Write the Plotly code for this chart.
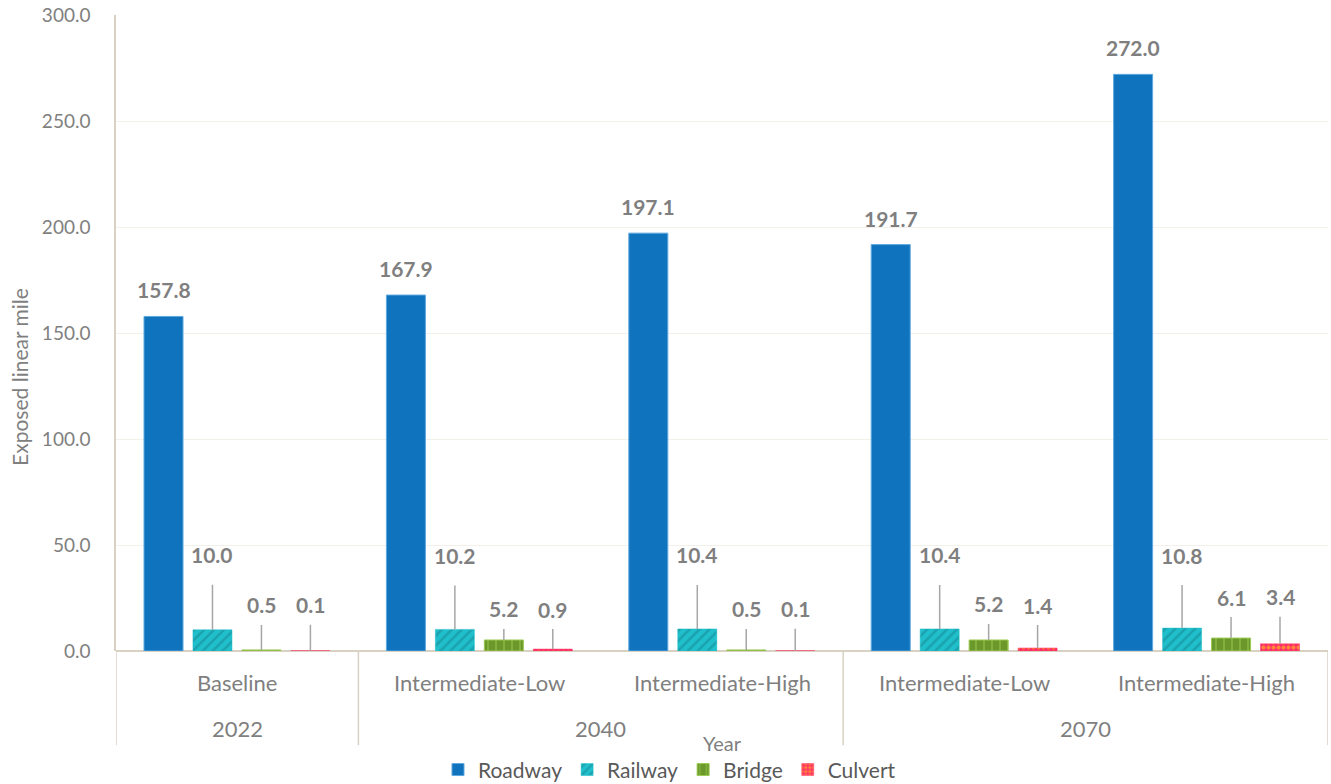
import plotly.graph_objects as go

# Scenario / year categories
years = ["2022", "2040", "2040", "2070", "2070"]
scenarios = ["Baseline", "Intermediate-Low", "Intermediate-High",
             "Intermediate-Low", "Intermediate-High"]

# Exposed linear miles by asset type
roadway = [157.8, 167.9, 197.1, 191.7, 272.0]
railway = [10.0, 10.2, 10.4, 10.4, 10.8]
bridge = [0.5, 5.2, 0.5, 5.2, 6.1]
culvert = [0.1, 0.9, 0.1, 1.4, 3.4]

y_ticks = [0, 50, 100, 150, 200, 250, 300]

# Callout label offsets (pixels above the bar top) for the small series
railway_label_dy = [-75, -74, -74, -74, -73]
bridge_label_dy = [-45, -31, -41, -36, -41]
culvert_label_dy = [-46, -40, -42, -43, -47]

GRAY = "#7F7F7F"
BEIGE = "#D9D2C3"
FONT = "Lato"

x = list(range(len(scenarios)))
bar_w = 0.161
step = 0.202
first = -0.3845

series = [
    dict(name="Roadway", data=roadway,
         marker=dict(color="#0F73BD", line=dict(color="#5FA8DE", width=1))),
    dict(name="Railway", data=railway,
         marker=dict(color="#1FBFCB", line=dict(color="#1FBFCB", width=0.5),
                     pattern=dict(shape="/", fgcolor="#15838F", size=7,
                                  solidity=0.35, fillmode="overlay"))),
    dict(name="Bridge", data=bridge,
         marker=dict(color="#6A982B", line=dict(color="#9BCB52", width=1),
                     pattern=dict(shape="|", fgcolor="#A6D35A", size=8,
                                  solidity=0.2, fillmode="overlay"))),
    dict(name="Culvert", data=culvert,
         marker=dict(color="#FF2F6A", line=dict(color="#FF2F6A", width=0.5),
                     pattern=dict(shape=".", fgcolor="#FFE000", size=5,
                                  solidity=0.5, fillmode="overlay"))),
]

fig = go.Figure()
for i, s in enumerate(series):
    fig.add_trace(go.Bar(
        x=x, y=s["data"], name=s["name"],
        offset=first + i * step, width=bar_w,
        marker=s["marker"], hoverinfo="y",
    ))

annotations = []
label_font = dict(family=FONT, size=21, color=GRAY, weight="bold")


def center(cat, i):
    return cat + first + i * step + bar_w / 2


# Roadway labels sit directly above the bars
for c, v in zip(x, roadway):
    annotations.append(dict(x=center(c, 0), y=v, xref="x", yref="y",
                            text=f"{v:.1f}", showarrow=False, yanchor="bottom",
                            yshift=12, font=label_font))

# Callout labels with leader lines for the smaller series
for i, vals, dys, sso in [(1, railway, railway_label_dy, 16),
                          (2, bridge, bridge_label_dy, 6),
                          (3, culvert, culvert_label_dy, 6)]:
    for c, v, dy in zip(x, vals, dys):
        annotations.append(dict(x=center(c, i), y=v, xref="x", yref="y",
                                text=f"{v:.1f}", showarrow=True, arrowhead=0,
                                arrowwidth=1.5, arrowcolor="#A6A6A6",
                                ax=0, ay=dy, startstandoff=sso,
                                font=label_font))

# Category labels (inner level: scenario, outer level: year)
cat_font = dict(family=FONT, size=22, color=GRAY)
for c, sc in zip(x, scenarios):
    annotations.append(dict(x=c, y=-0.0503, xref="x", yref="paper",
                            text=sc, showarrow=False, yanchor="middle",
                            font=cat_font))

year_groups = {}
for c, yr in zip(x, years):
    year_groups.setdefault(yr, []).append(c)
for yr, cats in year_groups.items():
    annotations.append(dict(x=sum(cats) / len(cats), y=-0.1226, xref="x",
                            yref="paper", text=yr, showarrow=False,
                            yanchor="middle", font=cat_font))

# Axis titles
annotations.append(dict(x=0.5, y=-0.145, xref="paper", yref="paper",
                        text="Year", showarrow=False, yanchor="middle",
                        font=dict(family=FONT, size=20, color=GRAY)))
annotations.append(dict(x=-0.0792, y=0.431, xref="paper", yref="paper",
                        text="Exposed linear mile", showarrow=False,
                        textangle=-90, xanchor="center", yanchor="middle",
                        font=dict(family=FONT, size=21, color=GRAY)))

# Group dividers below the category axis
shapes = []
bounds = [-0.5]
for k in range(1, len(years)):
    if years[k] != years[k - 1]:
        bounds.append(k - 0.5)
bounds.append(len(years) - 0.5)
for b in bounds:
    shapes.append(dict(type="line", xref="x", yref="paper", x0=b, x1=b,
                       y0=0, y1=-0.148, line=dict(color=BEIGE, width=1.5)))

fig.update_layout(
    width=1331, height=784,
    margin=dict(l=116, r=3, t=15, b=133),
    plot_bgcolor="white", paper_bgcolor="white",
    barmode="overlay",
    font=dict(family=FONT, color=GRAY),
    annotations=annotations, shapes=shapes,
    showlegend=True,
    legend=dict(orientation="h", xref="container", yref="container",
                x=0.503, xanchor="center", y=0.018, yanchor="middle",
                font=dict(family=FONT, size=21, color="#595959"),
                itemwidth=30, tracegroupgap=0),
    xaxis=dict(range=[-0.5, 4.5], showticklabels=False, showgrid=False,
               zeroline=False, showline=False, fixedrange=True),
    yaxis=dict(range=[0, 300], tickvals=y_ticks, tickformat=".1f",
               showgrid=True, gridcolor="#F3F0EA", gridwidth=1,
               zeroline=True, zerolinecolor=BEIGE, zerolinewidth=2,
               showline=True, linecolor=BEIGE, linewidth=1.5,
               ticks="outside", ticklen=20, tickcolor="rgba(0,0,0,0)",
               tickfont=dict(family=FONT, size=19, color=GRAY)),
)

fig.write_html("out.html")
